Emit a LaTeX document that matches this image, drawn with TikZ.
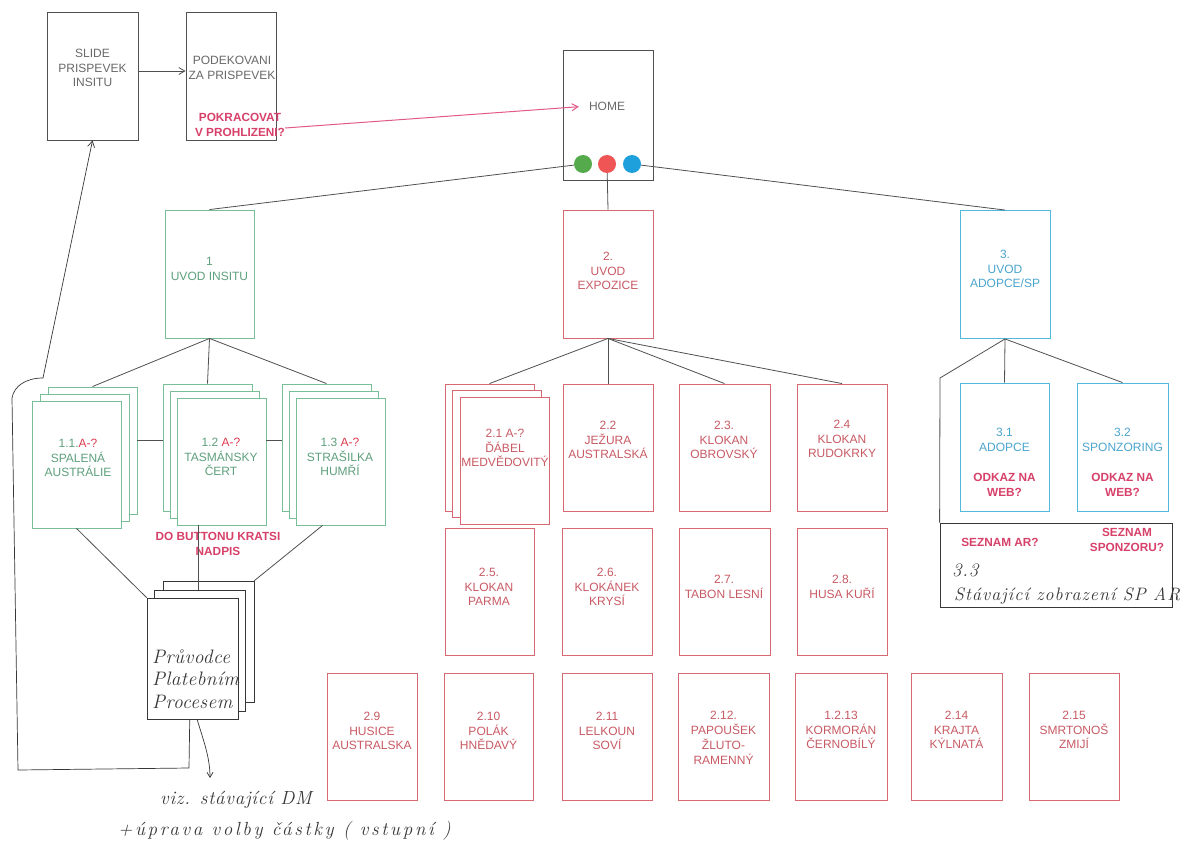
\documentclass[tikz,border=0pt]{standalone}
\usepackage{fontspec}
\setmainfont{Liberation Sans}
\newfontfamily\handfont{Latin Modern Roman}
\usetikzlibrary{arrows.meta,calc}
\definecolor{kline}{RGB}{80,80,80}
\definecolor{ktext}{RGB}{105,105,105}
\definecolor{gline}{RGB}{120,190,150}
\definecolor{gtext}{RGB}{95,160,125}
\definecolor{rline}{RGB}{215,105,115}
\definecolor{rtext}{RGB}{200,90,100}
\definecolor{bline}{RGB}{80,185,220}
\definecolor{btext}{RGB}{75,165,205}
\definecolor{annot}{RGB}{215,65,105}
\definecolor{ared}{RGB}{220,60,80}
\definecolor{cgreen}{RGB}{85,170,75}
\definecolor{cred}{RGB}{240,85,85}
\definecolor{cblue}{RGB}{30,160,220}
\definecolor{handc}{RGB}{55,55,55}
\definecolor{pinkarr}{RGB}{225,90,135}
\tikzset{
  sheet/.style={draw, fill=white, line width=0.9pt, inner sep=0pt, minimum width=90pt, minimum height=127pt},
  gsheet/.style={sheet, draw=gline},
  rsheet/.style={sheet, draw=rline},
  bsheet/.style={sheet, draw=bline},
  ksheet/.style={sheet, draw=kline},
  hsheet/.style={sheet, draw=handc, line width=0.7pt, minimum width=91pt, minimum height=121pt},
  lbl/.style={align=center, font=\fontsize{12}{14.8}\selectfont, inner sep=0pt},
  glbl/.style={lbl, text=gtext},
  rlbl/.style={lbl, text=rtext},
  blbl/.style={lbl, text=btext},
  klbl/.style={lbl, text=ktext},
  anno/.style={lbl, font=\bfseries\fontsize{11.8}{15}\selectfont, text=annot},
  handtxt/.style={font=\handfont\itshape\addfontfeature{LetterSpace=4}\fontsize{19}{22}\selectfont, text=handc, inner sep=0pt},
  widehand/.style={font=\handfont\itshape\addfontfeature{LetterSpace=14}\fontsize{19}{22}\selectfont, text=handc, inner sep=0pt},
  dotnode/.style={circle, inner sep=0pt, minimum size=18pt},
  conn/.style={draw=kline, line width=0.8pt},
  hconn/.style={draw=handc, line width=0.7pt},
  tip/.style={-{Straight Barb[length=6pt,width=7pt]}}
}
\begin{document}
\begin{tikzpicture}[x=1pt,y=-1pt]
\useasboundingbox[fill=white] (0,0) rectangle (1199,845);

% top row
\node[ksheet, minimum width=91pt, minimum height=128pt] (slide) at (92.5,76) {};
\node[klbl] (tslide) at (92.5,68) {SLIDE\\PRISPEVEK\\INSITU};
\node[ksheet, minimum height=128pt] (podek) at (231,76) {};
\node[klbl] (tpodek) at (232,68) {PODEKOVANI\\ZA PRISPEVEK};
\node[anno] (tpokr) at (240,125) {POKRACOVAT\\V PROHLIZENI?};
\node[ksheet, minimum height=130pt] (home) at (608,115) {};
\node[klbl] (thome) at (607,106) {HOME};
\node[dotnode, fill=cgreen] (gc) at (583,164) {};
\node[dotnode, fill=cred] (rc) at (607,164) {};
\node[dotnode, fill=cblue] (bc) at (632,164) {};

\draw[conn, tip] ([yshift=5pt]slide.east) -- ([yshift=5pt]podek.west);
\draw[pinkarr, line width=1pt, tip, shorten >=10pt] ([yshift=-3pt]tpokr.east) -- (thome.west);

% level 1
\node[gsheet, minimum width=89pt, minimum height=128pt] (uvod1) at (209.5,274) {};
\node[glbl] (tuvod1) at (209.5,269) {1\\UVOD INSITU};
\node[rsheet, minimum height=128pt] (uvod2) at (608,274) {};
\node[rlbl] (tuvod2) at (608,271) {2.\\UVOD\\EXPOZICE};
\node[bsheet, minimum height=128pt] (uvod3) at (1005,274.5) {};
\node[blbl] (tuvod3) at (1005,269) {3.\\UVOD\\ADOPCE/SP};

\draw[conn] (uvod1.north) -- (gc);
\draw[conn] (rc) -- (uvod2.north);
\draw[conn] (bc) -- (uvod3.north);

% green stacks
\node[gsheet, minimum width=89pt] (s11c) at (92.5,450.5) {};
\node[gsheet, minimum width=89pt] (s11b) at (84.5,457.5) {};
\node[gsheet, minimum width=89pt] (s11a) at (76.5,464.5) {};
\node[glbl] (t11) at (78,458) {1.1.\textcolor{ared}{A-?}\\SPALENÁ\\AUSTRÁLIE};
\node[gsheet, minimum width=89pt] (s12c) at (207.5,447.5) {};
\node[gsheet, minimum width=89pt] (s12b) at (214.5,454.5) {};
\node[gsheet, minimum width=89pt] (s12a) at (221.5,461.5) {};
\node[glbl] (t12) at (221,457) {1.2 \textcolor{ared}{A-?}\\TASMÁNSKY\\ČERT};
\node[gsheet, minimum width=89pt] (s13c) at (326.5,447.5) {};
\node[gsheet, minimum width=89pt] (s13b) at (333.5,454.5) {};
\node[gsheet, minimum width=89pt] (s13a) at (340.5,461.5) {};
\node[glbl] (t13) at (340,457) {1.3 \textcolor{ared}{A-?}\\STRAŠILKA\\HUMŘÍ};

\draw[conn] (uvod1.south) -- (s11c.north);
\draw[conn] (uvod1.south) -- (s12c.north);
\draw[conn] (uvod1.south) -- (s13c.north);
\draw[conn] ([yshift=10.5pt]s11c.east) -- ([yshift=7.5pt]s12c.west);
\draw[conn] ([yshift=21.5pt]s12a.east) -- ([yshift=7.5pt]s13c.west);

\node[anno] (tbutton) at (218,544) {DO BUTTONU KRATSI\\NADPIS};

% guide (hand drawn)
\node[hsheet] (g3) at (208.5,641.5) {};
\node[hsheet] (g2) at (199.5,650.5) {};
\node[hsheet] (guide) at (192.5,658.5) {};
\node[handtxt, align=left, anchor=west, font=\handfont\itshape\addfontfeature{LetterSpace=2}\fontsize{19.5}{22.5}\selectfont] (tguide) at (152,679) {Průvodce\\Platebním\\Procesem};

\coordinate (m1) at ($(s12a.south west)!0.24!(s12a.south east)$);
\coordinate (m2) at ($(s13a.south west)!0.3!(s13a.south east)$);
\draw[conn] (s11a.south) -- (guide.north west);
\draw[conn] (m1) -- (m1 |- g2.north);
\draw[conn] (m2) -- (g3.north east);

\coordinate (gs1) at ($(guide.south west)!0.47!(guide.south east)$);
\coordinate (gs2) at ($(guide.south west)!0.55!(guide.south east)$);
\coordinate (c1) at (189,768);
\coordinate (c2) at (18,770);
\coordinate (c3) at (12,398);
\coordinate (c4) at (43,378);
\coordinate (c5) at (210,778);
\draw[hconn, tip] (gs1) -- (c1) -- (c2) -- (c3) .. controls (14,386) and (26,378) .. (c4) -- (slide.south);
\draw[hconn, -{Straight Barb[length=5pt,width=6pt]}] (gs2) .. controls (204,742) and (210,758) .. (c5);
\node[handtxt, anchor=west] (tviz) at (160,800) {viz. stávající DM};
\node[widehand, anchor=west] (tupr) at (118,831) {+úprava volby částky ( vstupní )};

% red stack 2.1
\node[rsheet, minimum width=89pt] (s21c) at (489.5,447.5) {};
\node[rsheet, minimum width=89pt] (s21b) at (497,454) {};
\node[rsheet, minimum width=89pt] (s21a) at (504.5,461) {};
\node[rlbl] (t21) at (505,448) {2.1 A-?\\ĎÁBEL\\MEDVĚDOVITÝ};

\node[rsheet] (b22) at (608,447.5) {};
\node[rlbl] (t22) at (608,440) {2.2\\JEŽURA\\AUSTRALSKÁ};
\node[rsheet, minimum width=91pt] (b23) at (724.5,447.5) {};
\node[rlbl] (t23) at (724,440) {2.3.\\KLOKAN\\OBROVSKÝ};
\node[rsheet] (b24) at (842,447.5) {};
\node[rlbl] (t24) at (842,439) {2.4\\KLOKAN\\RUDOKRKY};

\draw[conn] (uvod2.south) -- (s21c.north);
\draw[conn] (uvod2.south) -- (b22.north);
\draw[conn] (uvod2.south) -- (b23.north);
\draw[conn] (uvod2.south) -- (b24.north);

\node[rsheet, minimum width=89pt] (b25) at (489.5,591.5) {};
\node[rlbl] (t25) at (489,587) {2.5.\\KLOKAN\\PARMA};
\node[rsheet] (b26) at (607,591.5) {};
\node[rlbl] (t26) at (607,587) {2.6.\\KLOKÁNEK\\KRYSÍ};
\node[rsheet, minimum width=91pt] (b27) at (724.5,591.5) {};
\node[rlbl] (t27) at (724,587) {2.7.\\TABON LESNÍ};
\node[rsheet] (b28) at (842,591.5) {};
\node[rlbl] (t28) at (842,587) {2.8.\\HUSA KUŘÍ};

\node[rsheet] (b29) at (372,736.5) {};
\node[rlbl] (t29) at (372,731) {2.9\\HUSICE\\AUSTRALSKA};
\node[rsheet, minimum width=89pt] (b210) at (488.5,736.5) {};
\node[rlbl] (t210) at (488.5,731) {2.10\\POLÁK\\HNĚDAVÝ};
\node[rsheet] (b211) at (607,736.5) {};
\node[rlbl] (t211) at (607,731) {2.11\\LELKOUN\\SOVÍ};
\node[rsheet, minimum width=91pt] (b212) at (723.5,736.5) {};
\node[rlbl] (t212) at (723.5,738) {2.12.\\PAPOUŠEK\\ŽLUTO-\\RAMENNÝ};
\node[rsheet, minimum width=92pt] (b213) at (841,736.5) {};
\node[rlbl] (t213) at (841,730) {1.2.13\\KORMORÁN\\ČERNOBÍLÝ};
\node[rsheet, minimum width=91pt] (b214) at (956.5,736.5) {};
\node[rlbl] (t214) at (956.5,730) {2.14\\KRAJTA\\KÝLNATÁ};
\node[rsheet] (b215) at (1074,736.5) {};
\node[rlbl] (t215) at (1074,730) {2.15\\SMRTONOŠ\\ZMIJÍ};

% blue branch
\node[bsheet, minimum width=89pt, minimum height=128pt] (b31) at (1004.5,447) {};
\node[blbl] (t31) at (1004.5,440) {3.1\\ADOPCE};
\node[anno] (w31) at (1004.5,484.5) {ODKAZ NA\\WEB?};
\node[bsheet, minimum width=91pt, minimum height=128pt] (b32) at (1122.5,447) {};
\node[blbl] (t32) at (1122.5,440) {3.2\\SPONZORING};
\node[anno] (w32) at (1122.5,484.5) {ODKAZ NA\\WEB?};

\node[draw=handc, line width=0.8pt, inner sep=0pt, minimum width=232pt, minimum height=84pt] (b33) at (1056,565) {};
\node[anno] (tsezar) at (1000,542) {SEZNAM AR?};
\node[anno] (tsezsp) at (1127,540) {SEZNAM\\SPONZORU?};
\node[handtxt, anchor=west] (t33) at (952,570) {3.3};
\node[handtxt, anchor=west, font=\handfont\itshape\addfontfeature{LetterSpace=6}\fontsize{18}{22}\selectfont] (tstav) at (954,596) {Stávající zobrazení SP AR};

\coordinate (c6) at (940,378);
\draw[conn] (uvod3.south) -- (b31.north);
\draw[conn] (uvod3.south) -- (b32.north);
\draw[conn] (uvod3.south) -- (c6) -- (b33.north west);
\end{tikzpicture}
\end{document}
